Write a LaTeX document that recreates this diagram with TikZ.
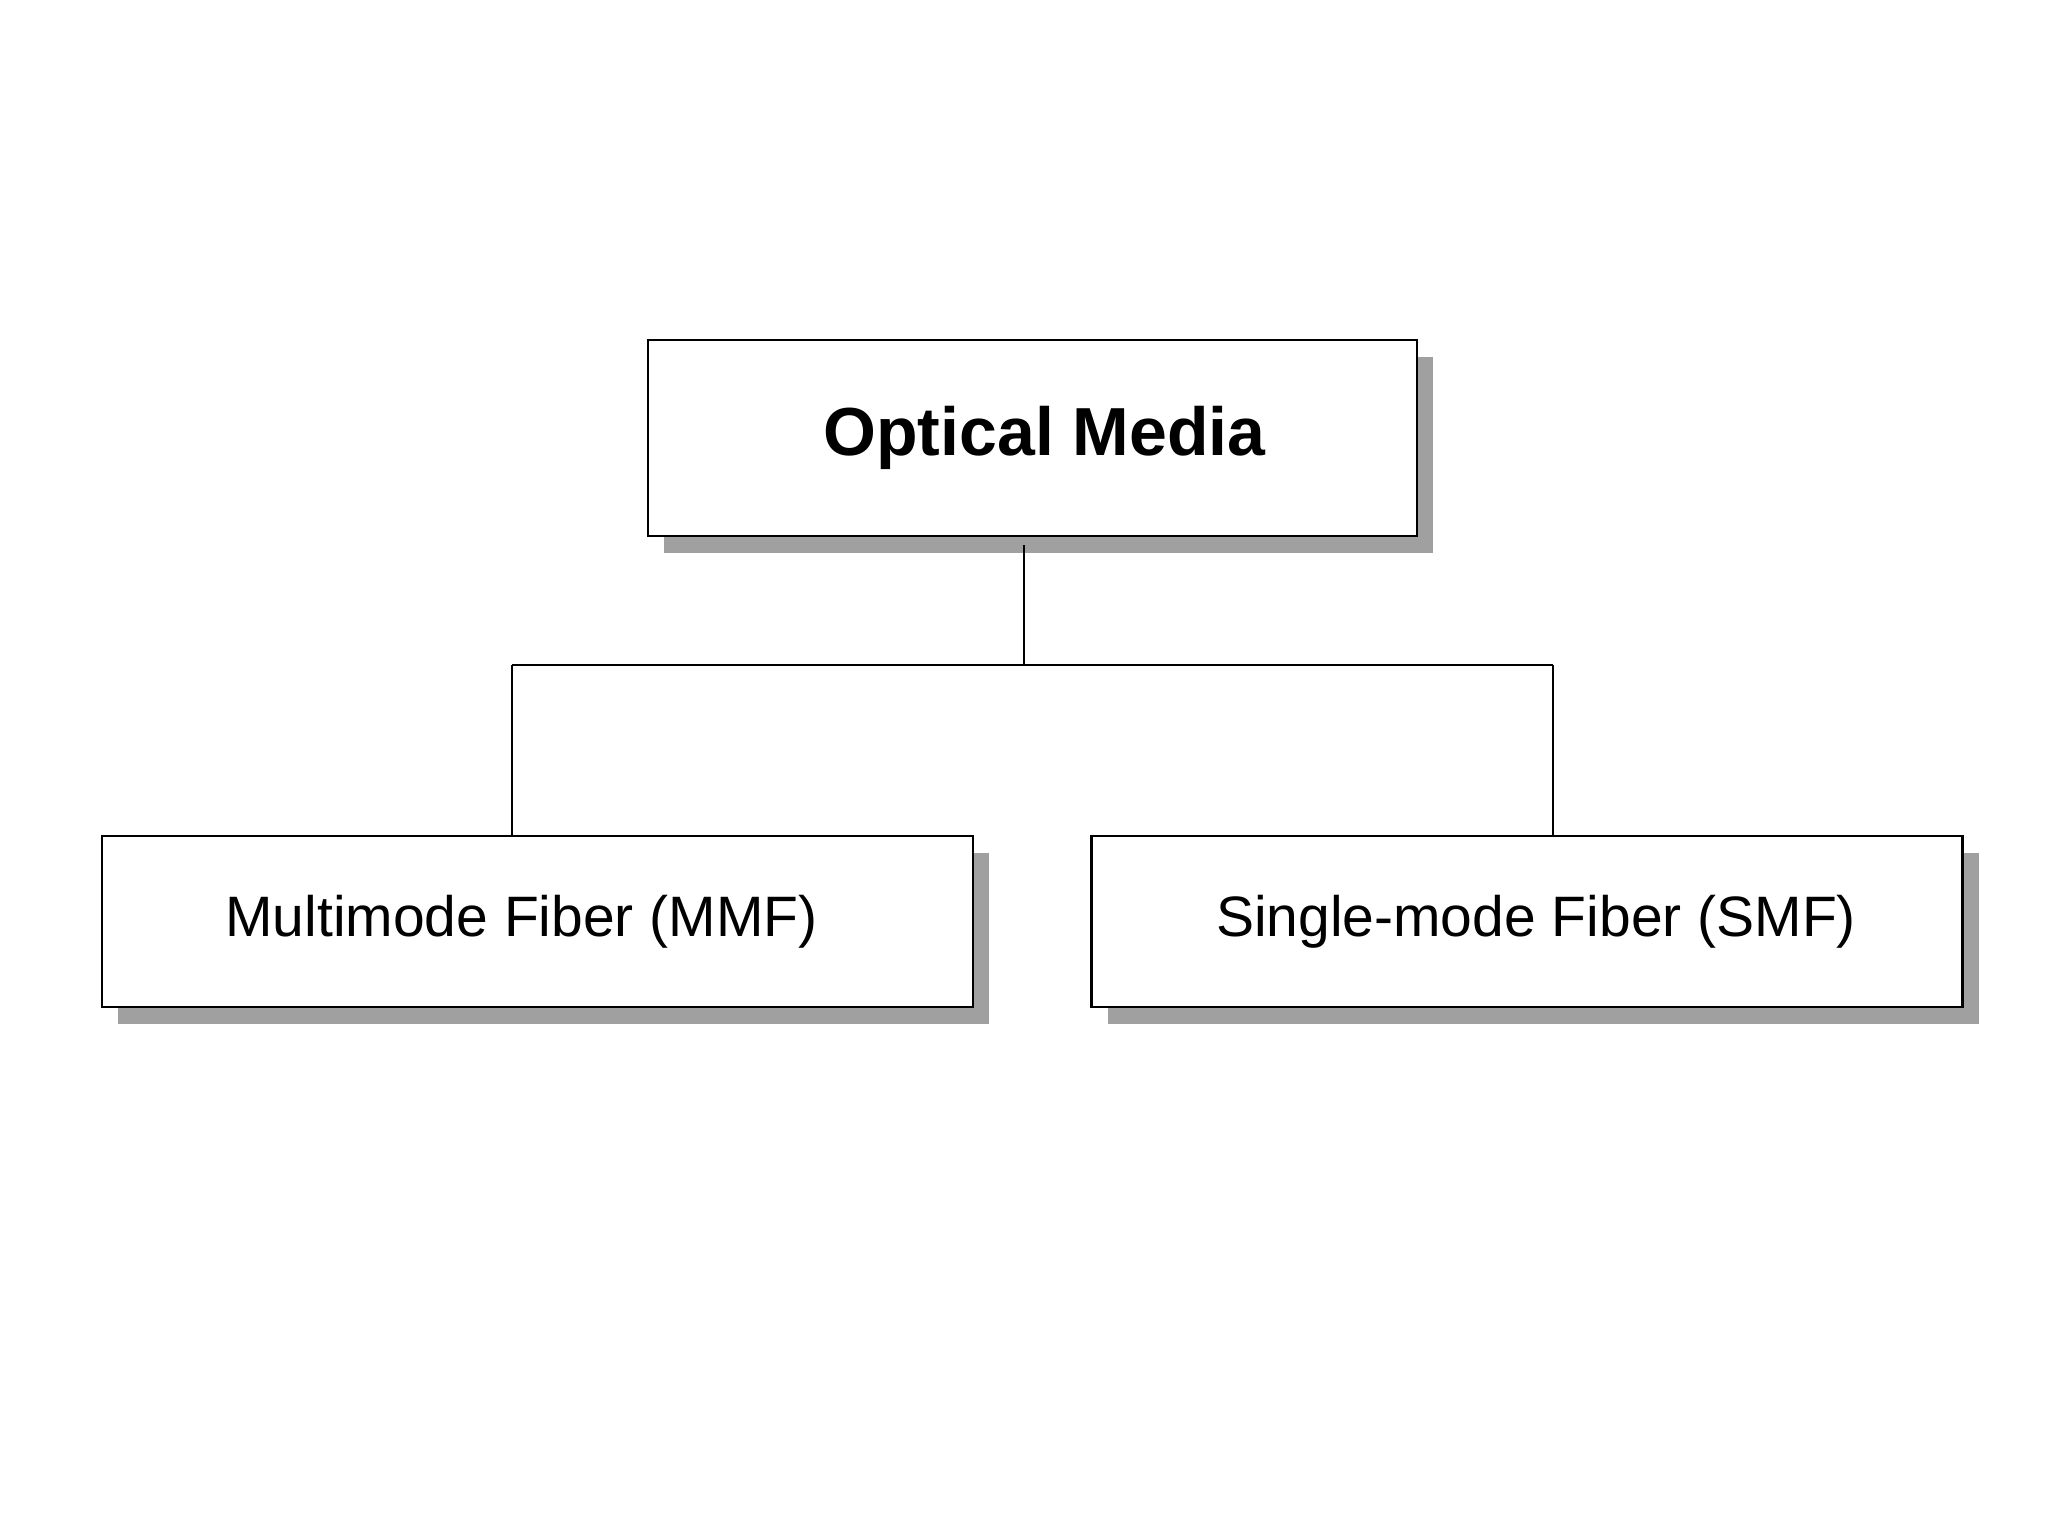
\documentclass[tikz,border=0pt]{standalone}
\usepackage{fontspec}
\setmainfont{Liberation Sans}
\usetikzlibrary{shadows}
\definecolor{shadowgray}{HTML}{A0A0A0}
\tikzset{
  box/.style={draw=black, line width=2.6pt, fill=white, rectangle, inner sep=0pt, outer sep=0pt,
    general shadow={fill=shadowgray, draw=none, shadow xshift=16pt, shadow yshift=-17pt}},
  topbox/.style={box, minimum width=769pt, minimum height=196pt,
    font=\fontsize{68}{80}\selectfont\bfseries},
  leafbox/.style={box, minimum width=871pt, minimum height=171pt,
    font=\fontsize{57}{66}\selectfont},
  conn/.style={draw=black, line width=2pt}
}
\begin{document}
\begin{tikzpicture}[x=1pt, y=-1pt]
\useasboundingbox[fill=white] (0,0) rectangle (2048,1536);
\node[topbox] (top) at (1032.5,438) {\hspace*{24pt}Optical Media};
\node[leafbox] (mmf) at (537.5,921.5) {Multimode Fiber (MMF)\hspace*{32pt}};
\node[leafbox] (smf) at (1527,921.5) {\hspace*{18pt}Single-mode Fiber (SMF)};
\coordinate (busmid) at (1024,665);
\coordinate (busL) at (512,665);
\coordinate (busR) at (1553,665);
\draw[conn] ([xshift=-8.5pt,yshift=-9pt]top.south) -- (busmid);
\draw[conn] (busL) -- (busR);
\draw[conn] (busL) -- (busL |- mmf.north);
\draw[conn] (busR) -- (busR |- smf.north);
\end{tikzpicture}
\end{document}
